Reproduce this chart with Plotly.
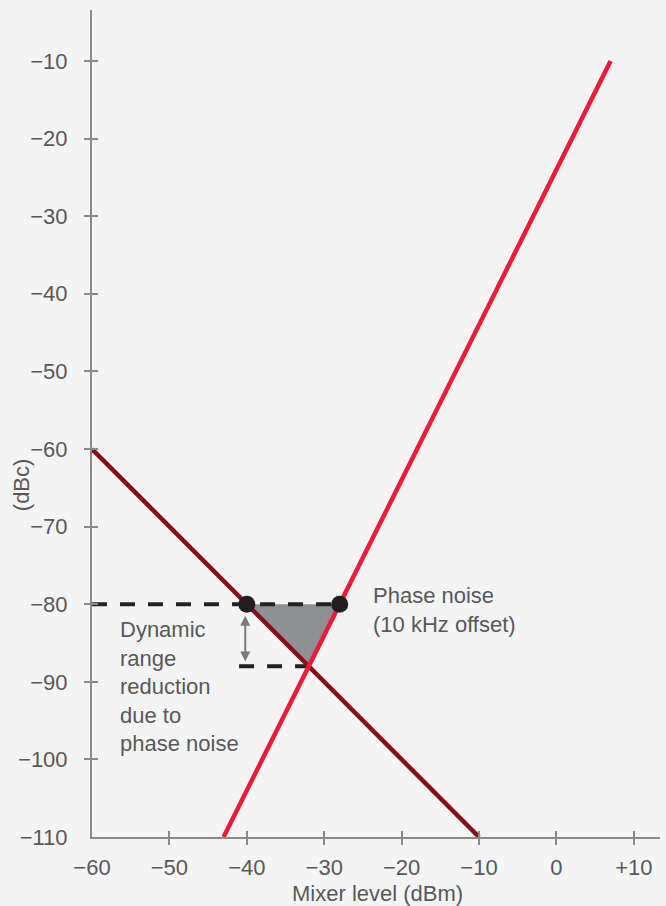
import plotly.graph_objects as go

# ---- data ----
x_tick_vals = [-60, -50, -40, -30, -20, -10, 0, 10]
x_tick_text = ["\u221260", "\u221250", "\u221240", "\u221230", "\u221220", "\u221210", "0", "+10"]
y_tick_vals = [-110, -100, -90, -80, -70, -60, -50, -40, -30, -20, -10]
y_tick_text = ["\u2212110", "\u2212100", "\u221290", "\u221280", "\u221270", "\u221260",
               "\u221250", "\u221240", "\u221230", "\u221220", "\u221210"]

# dark red line (slope -1)
dark_x = [-60, -10]
dark_y = [-60, -110]
# bright red line (slope 2)
red_x = [-43, 7]
red_y = [-110, -10]
# shaded triangle
tri_x = [-40, -28, -32, -40]
tri_y = [-80, -80, -88, -80]
# dashed reference lines
dash1_x = [-60, -27]
dash1_y = [-80, -80]
dash2_x = [-41, -32]
dash2_y = [-88, -88]
# points
pts_x = [-40, -28]
pts_y = [-80, -80]

X_RANGE = [-60, 13.38]
Y_RANGE = [-110, -3.43]

AX = "#8a8a8e"
TXT = "#58585a"
FONT = "Liberation Sans, Arial, Helvetica, sans-serif"
FS = 22

fig = go.Figure()
fig.add_trace(go.Scatter(x=tri_x, y=tri_y, fill="toself", fillcolor="#8e8f93",
                         mode="lines", line=dict(width=0), hoverinfo="skip", showlegend=False))
fig.add_trace(go.Scatter(x=dash1_x, y=dash1_y, mode="lines",
                         line=dict(color="#222222", width=4, dash="15px,13px"),
                         hoverinfo="skip", showlegend=False))
fig.add_trace(go.Scatter(x=dash2_x, y=dash2_y, mode="lines",
                         line=dict(color="#222222", width=4, dash="15px,13px"),
                         hoverinfo="skip", showlegend=False))
fig.add_trace(go.Scatter(x=dark_x, y=dark_y, mode="lines",
                         line=dict(color="#8a0c1c", width=4.5), hoverinfo="skip", showlegend=False))
fig.add_trace(go.Scatter(x=red_x, y=red_y, mode="lines",
                         line=dict(color="#ec1b3c", width=4.5), hoverinfo="skip", showlegend=False))
fig.add_trace(go.Scatter(x=pts_x, y=pts_y, mode="markers",
                         marker=dict(color="#231f20", size=17), hoverinfo="skip", showlegend=False))
# dummy traces so the tick-only overlay axes get drawn
fig.add_trace(go.Scatter(x=[None], y=[None], xaxis="x2", yaxis="y2", mode="lines",
                         hoverinfo="skip", showlegend=False))
fig.add_trace(go.Scatter(x=[None], y=[None], xaxis="x3", yaxis="y3", mode="lines",
                         hoverinfo="skip", showlegend=False))

common = dict(showgrid=False, zeroline=False, fixedrange=True)

fig.update_layout(
    width=666, height=906,
    margin=dict(l=92, r=6, t=10, b=69),
    paper_bgcolor="#f4f4f4", plot_bgcolor="#f4f4f4",
    font=dict(family=FONT, size=FS, color=TXT),
    xaxis=dict(range=X_RANGE, showline=True, linecolor=AX, linewidth=2, ticks="",
               tickvals=x_tick_vals, ticktext=x_tick_text, ticklabelstandoff=10,
               tickfont=dict(size=FS, color=TXT), **common),
    yaxis=dict(range=Y_RANGE, showline=True, linecolor=AX, linewidth=2, ticks="",
               tickvals=y_tick_vals, ticktext=y_tick_text, ticklabelstandoff=18,
               tickfont=dict(size=FS, color=TXT), **common),
    xaxis2=dict(range=X_RANGE, overlaying="x", anchor="y2", side="bottom", ticks="outside",
                ticklen=7, tickwidth=2, tickcolor=AX, tickvals=x_tick_vals[1:],
                showticklabels=False, showline=False, **common),
    yaxis2=dict(range=Y_RANGE, overlaying="y", anchor="x2", side="left", ticks="outside",
                ticklen=7, tickwidth=2, tickcolor=AX, tickvals=y_tick_vals[1:],
                showticklabels=False, showline=False, **common),
    xaxis3=dict(range=X_RANGE, overlaying="x", anchor="y3", side="bottom", ticks="inside",
                ticklen=6, tickwidth=2, tickcolor=AX, tickvals=x_tick_vals[1:],
                showticklabels=False, showline=False, **common),
    yaxis3=dict(range=Y_RANGE, overlaying="y", anchor="x3", side="left", ticks="inside",
                ticklen=6, tickwidth=2, tickcolor=AX, tickvals=y_tick_vals[1:],
                showticklabels=False, showline=False, **common),
)

fig.add_annotation(x=-40.2, y=-87.4, ax=-40.2, ay=-81.3, xref="x", yref="y", axref="x", ayref="y",
                   text="", showarrow=True, arrowhead=2, arrowside="end+start",
                   arrowsize=1, arrowwidth=2, arrowcolor="#7a7a7c")
fig.add_annotation(x=-23.9, y=-80.7, xref="x", yref="y", xanchor="left", yanchor="middle",
                   align="left", showarrow=False,
                   text="Phase noise<br>(10 kHz offset)", font=dict(size=FS, color=TXT))
fig.add_annotation(x=-56.7, y=-90.6, xref="x", yref="y", xanchor="left", yanchor="middle",
                   align="left", showarrow=False,
                   text="Dynamic<br>range<br>reduction<br>due to<br>phase noise",
                   font=dict(size=FS, color=TXT))
fig.add_annotation(x=-0.125, y=0.4254, xref="paper", yref="paper", xanchor="center",
                   yanchor="middle", textangle=-90, showarrow=False, text="(dBc)",
                   font=dict(size=FS, color=TXT))
fig.add_annotation(x=0.5018, y=-0.068, xref="paper", yref="paper", xanchor="center",
                   yanchor="middle", showarrow=False, text="Mixer level (dBm)",
                   font=dict(size=FS, color=TXT))

fig.write_html("out.html", config={"displayModeBar": False},
               post_script="document.body.style.margin='0';document.body.style.background='#f4f4f4';")
